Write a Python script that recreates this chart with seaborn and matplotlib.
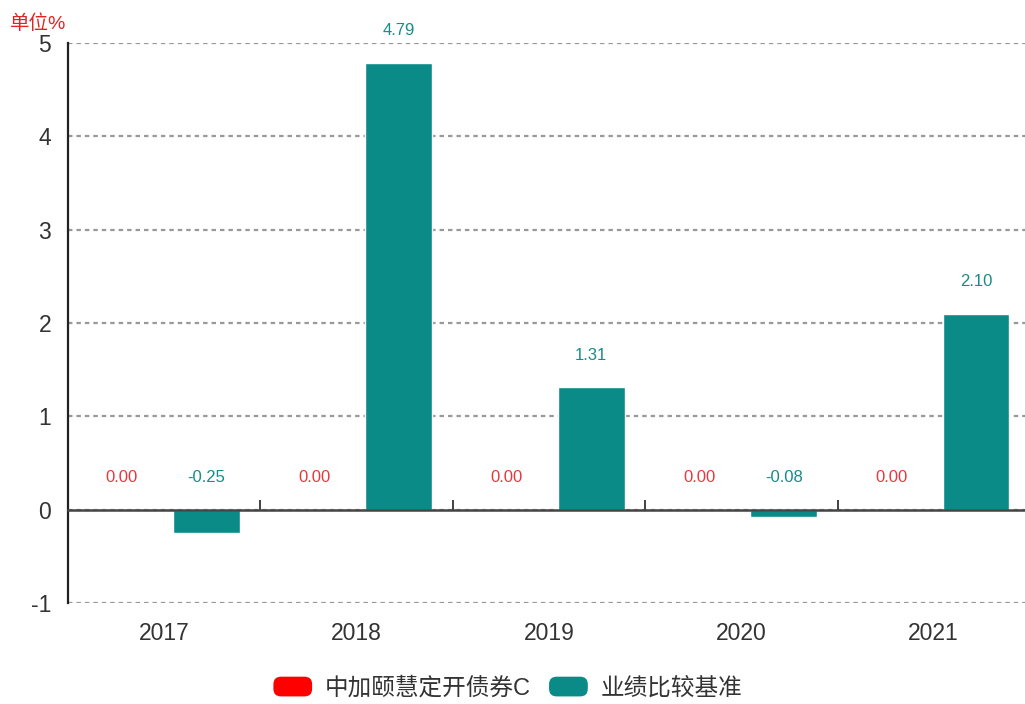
"""
Annual return chart: fund vs benchmark.

Grouped bars per year with value labels,
dashed grid and a legend at the bottom.
"""

import pandas as pd
import matplotlib.pyplot as plt
import seaborn as sns
from matplotlib.legend_handler import HandlerPatch
from matplotlib.patches import FancyBboxPatch, Patch


YEARS: list[str] = ["2017", "2018", "2019", "2020", "2021"]
FUND_NAME: str = "中加颐慧定开债券C"
BENCH_NAME: str = "业绩比较基准"
FUND_VALUES: list[float] = [0.00, 0.00, 0.00, 0.00, 0.00]
BENCH_VALUES: list[float] = [-0.25, 4.79, 1.31, -0.08, 2.10]
Y_TICKS: list[int] = [-1, 0, 1, 2, 3, 4, 5]
UNIT_LABEL: str = "单位%"

BAR_COLORS: list[str] = ["#ff0000", "#0b8b87"]
LABEL_COLORS: list[str] = ["#e5393d", "#178c88"]
TEXT_COLOR: str = "#333333"


def build_dataframe() -> pd.DataFrame:
    """
    Long-format table for seaborn.
    """
    fund = pd.DataFrame(
        {"year": YEARS, "series": FUND_NAME, "value": FUND_VALUES}
    )
    bench = pd.DataFrame(
        {"year": YEARS, "series": BENCH_NAME, "value": BENCH_VALUES}
    )
    return pd.concat([fund, bench], ignore_index=True)


def rounded_patch(legend, orig_handle, xdescent, ydescent,
                  width, height, fontsize):
    """
    Rounded legend key.
    """
    return FancyBboxPatch(
        (-xdescent, -ydescent), width, height,
        boxstyle="round,pad=0,rounding_size=6",
        facecolor=orig_handle.get_facecolor(),
        edgecolor="none",
    )


def draw_chart(dataframe: pd.DataFrame) -> None:
    """
    Draw the grouped bar chart and save it.
    """
    sns.set_style("white")
    plt.rcParams["font.family"] = ["Liberation Sans", "Noto Sans CJK SC"]
    plt.rcParams["axes.unicode_minus"] = False

    fig = plt.figure(figsize=(10.25, 7.04), dpi=100)
    ax = fig.add_axes([0.0663, 0.1435, 0.9385, 0.7955])

    sns.barplot(
        data=dataframe,
        x="year",
        y="value",
        hue="series",
        hue_order=[FUND_NAME, BENCH_NAME],
        palette=BAR_COLORS,
        width=0.88,
        gap=0.21,
        saturation=1,
        legend=False,
        ax=ax,
    )

    ymin, ymax = Y_TICKS[0], Y_TICKS[-1]
    ax.set_ylim(ymin, ymax)
    ax.set_xlim(-0.5, len(YEARS) - 0.5)
    ax.set_yticks(Y_TICKS)
    ax.set_xlabel("")
    ax.set_ylabel("")

    # dashed horizontal grid
    ax.set_axisbelow(True)
    ax.yaxis.grid(True, color="#999999", linestyle=(0, (2, 1.8)),
                  linewidth=1.6)
    ax.xaxis.grid(False)

    for side in ["top", "right", "bottom"]:
        ax.spines[side].set_visible(False)
    ax.spines["left"].set_color("#222222")
    ax.spines["left"].set_linewidth(1.6)

    ax.tick_params(axis="y", length=0, pad=12, labelsize=16.5,
                   labelcolor=TEXT_COLOR)
    ax.tick_params(axis="x", length=0, pad=14, labelsize=16.5,
                   labelcolor=TEXT_COLOR)

    # zero axis with boundary ticks
    zero_loc = (0 - ymin) / (ymax - ymin)
    zero_axis = ax.secondary_xaxis(zero_loc)
    zero_axis.set_xticks([i + 0.5 for i in range(len(YEARS) - 1)])
    zero_axis.set_xticklabels([])
    zero_axis.tick_params(direction="in", length=7, width=1.3,
                          color="#333333")
    zero_axis.spines["bottom"].set_color("#444444")
    zero_axis.spines["bottom"].set_linewidth(1.8)
    zero_axis.set_zorder(5)

    # value labels
    for container, color in zip(ax.containers, LABEL_COLORS):
        for rect in container:
            height = rect.get_height()
            value = rect.get_y() + height if rect.get_y() < 0 else height
            top = max(rect.get_y() + height, 0)
            ax.annotate(
                f"{value:.2f}",
                xy=(rect.get_x() + rect.get_width() / 2, top),
                xytext=(0, 23),
                textcoords="offset points",
                ha="center",
                va="center",
                fontsize=12,
                color=color,
            )

    fig.text(0.01, 0.967, UNIT_LABEL, color="#e02424", fontsize=14,
             ha="left", va="center")

    handles = [
        Patch(facecolor=BAR_COLORS[0], label=FUND_NAME),
        Patch(facecolor=BAR_COLORS[1], label=BENCH_NAME),
    ]
    fig.legend(
        handles=handles,
        loc="center",
        bbox_to_anchor=(0.495, 0.023),
        ncol=2,
        frameon=False,
        fontsize=17,
        handlelength=1.7,
        handleheight=1.0,
        handletextpad=0.5,
        columnspacing=0.75,
        labelcolor=TEXT_COLOR,
        handler_map={Patch: HandlerPatch(patch_func=rounded_patch)},
    )

    fig.savefig("out.png", dpi=100)


def main() -> None:
    """
    Build data and plot.
    """
    draw_chart(build_dataframe())


if __name__ == "__main__":
    main()
